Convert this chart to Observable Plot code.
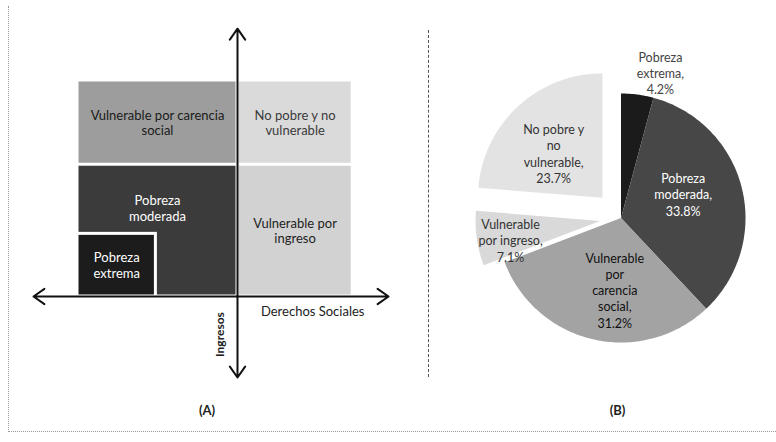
<!DOCTYPE html>
<html><head><meta charset="utf-8">
<script src="https://cdn.jsdelivr.net/npm/d3@7"></script>
<script src="https://cdn.jsdelivr.net/npm/@observablehq/plot@0.6"></script>
<style>
html,body{margin:0;padding:0;background:#fff;}
#wrap{position:relative;width:776px;height:442px;overflow:hidden;font-family:Lato,"Open Sans",sans-serif;}
#a{position:absolute;left:0;top:0;}
#b{position:absolute;left:428px;top:0;}
.frameL{position:absolute;left:8px;top:6px;height:426px;border-left:1px dotted #999;}
.frameB{position:absolute;left:8px;top:431px;width:768px;border-top:1px dotted #999;}
.divider{position:absolute;left:428px;top:30px;height:347px;border-left:1px dashed #555;}
</style></head>
<body>
<div id="wrap">
  <div class="frameL"></div>
  <div class="frameB"></div>
  <div id="a"></div>
  <div id="b"></div>
  <div class="divider"></div>
</div>
<script>
// ---------- Data ----------
// Panel (A): conceptual map of the multidimensional poverty groups
const quadrantNames = ["Vulnerable por carencia social", "No pobre y no vulnerable", "Pobreza moderada", "Vulnerable por ingreso", "Pobreza extrema"];
const quadrantLabels = ["Vulnerable por carencia\nsocial", "No pobre y no\nvulnerable", "Pobreza\nmoderada", "Vulnerable por\ningreso", "Pobreza\nextrema"];
// conceptual extents on the "Derechos Sociales" (x) and "Ingresos" (y) axes
const quadrantX1 = [-1, 0, -1, 0, -1];
const quadrantX2 = [0, 0.72, 0, 0.72, -0.51];
const quadrantY1 = [0.61, 0.61, 0, 0, 0];
const quadrantY2 = [1, 1, 0.61, 0.61, 0.29];
const axisLabels = ["Derechos Sociales", "Ingresos"];
const panelLabels = ["(A)", "(B)"];

// Panel (B): distribution of the population (%)
const pieCategories = ["Pobreza extrema", "Pobreza moderada", "Vulnerable por carencia social", "Vulnerable por ingreso", "No pobre y no vulnerable"];
const pieValues = [4.2, 33.8, 31.2, 7.1, 23.7];
const pieLabelText = ["Pobreza\nextrema,", "Pobreza\nmoderada,", "Vulnerable\npor\ncarencia\nsocial,", "Vulnerable\npor ingreso,", "No pobre y\nno\nvulnerable,"];

// ---------- Styles / layout ----------
const quadrantFill = ["#9d9d9d", "#dadada", "#3b3b3b", "#d2d2d2", "#1c1c1c"];
const quadrantText = ["#1a1a1a", "#3a3a3a", "#ffffff", "#222222", "#ffffff"];
const pieFill = ["#1b1b1b", "#474747", "#a3a3a3", "#d9d9d9", "#e3e3e3"];
const pieText = ["#444444", "#ffffff", "#111111", "#333333", "#333333"];
const pieExplode = [0, 0, 0, 0.17, 0.22];       // in radius units
const pieLabelR = [1.21, 0.535, 0.58, 0.735, 0.53];
const pieLabelShift = [7.6, -7, -8, -4, -5];    // degrees

const font = "Lato, 'Open Sans', sans-serif";

// ---------- Panel A ----------
const cells = quadrantNames.map((name, i) => ({
  name, label: quadrantLabels[i],
  x1: quadrantX1[i], x2: quadrantX2[i], y1: quadrantY1[i], y2: quadrantY2[i],
  fill: quadrantFill[i], text: quadrantText[i],
  lx: (quadrantX1[i] + quadrantX2[i]) / 2,
  ly: name === "Pobreza moderada" ? 0.41 : (quadrantY1[i] + quadrantY2[i]) / 2
}));
const arrows = [
  {x1: 0, y1: 0, x2: -1.275, y2: 0},
  {x1: 0, y1: 0, x2: 0.944, y2: 0},
  {x1: 0, y1: 0, x2: 0, y2: 1.24},
  {x1: 0, y1: 0, x2: 0, y2: -0.375}
];

const plotA = Plot.plot({
  width: 428, height: 442, margin: 0,
  x: {domain: [-237/160, (428-237)/160], axis: null},
  y: {domain: [-146/216, 296/216], axis: null},
  style: {fontFamily: font, background: "transparent"},
  marks: [
    Plot.rect(cells.filter(d => d.name !== "Pobreza extrema"), {x1: "x1", x2: "x2", y1: "y1", y2: "y2", fill: d => d.fill, inset: 1.5}),
    Plot.rect(cells.filter(d => d.name === "Pobreza extrema"), {x1: "x1", x2: "x2", y1: "y1", y2: "y2", fill: d => d.fill, stroke: "#fff", strokeWidth: 3}),
    Plot.text(cells, {x: "lx", y: "ly", text: "label", fill: d => d.text, fontSize: 13, lineHeight: 1.2}),
    Plot.arrow(arrows, {x1: "x1", y1: "y1", x2: "x2", y2: "y2", stroke: "#111", strokeWidth: 2, headLength: 10, headAngle: 70}),
    Plot.text([axisLabels[0]], {x: 0.47, y: -0.07, text: d => d, fontSize: 13, fill: "#222"}),
    Plot.text([axisLabels[1]], {x: -0.11, y: -0.176, text: d => d, fontSize: 12, fontWeight: "bold", fill: "#222", rotate: -90}),
    Plot.text([panelLabels[0]], {x: -0.19, y: -0.53, text: d => d, fontSize: 13, fontWeight: "bold", fill: "#222"})
  ]
});
document.getElementById("a").appendChild(plotA);

// ---------- Panel B ----------
const arcs = d3.pie().sort(null).startAngle(0).endAngle(2 * Math.PI)(pieValues);
const pts = [];
const labels = [];
arcs.forEach((a, i) => {
  const mid = (a.startAngle + a.endAngle) / 2;
  const ox = pieExplode[i] * Math.sin(mid), oy = pieExplode[i] * Math.cos(mid);
  const name = pieCategories[i];
  pts.push({name, u: ox, v: oy});
  const n = Math.max(4, Math.ceil((a.endAngle - a.startAngle) / (Math.PI / 180)));
  for (let k = 0; k <= n; k++) {
    const t = a.startAngle + (a.endAngle - a.startAngle) * k / n;
    pts.push({name, u: ox + Math.sin(t), v: oy + Math.cos(t)});
  }
  const la = mid + pieLabelShift[i] * Math.PI / 180;
  labels.push({
    name,
    text: pieLabelText[i] + "\n" + pieValues[i].toFixed(1) + "%",
    u: ox + pieLabelR[i] * Math.sin(la),
    v: oy + pieLabelR[i] * Math.cos(la),
    color: pieText[i]
  });
});

const R = 124.5, cx = 192.5, cy = 217.5;
const plotB = Plot.plot({
  width: 348, height: 442, margin: 0,
  x: {domain: [-cx / R, (348 - cx) / R], axis: null},
  y: {domain: [(cy - 442) / R, cy / R], axis: null},
  color: {domain: pieCategories, range: pieFill},
  style: {fontFamily: font, background: "transparent"},
  marks: [
    Plot.line(pts, {x: "u", y: "v", z: "name", fill: "name", stroke: null, curve: "linear-closed"}),
    Plot.text(labels, {x: "u", y: "v", text: "text", fill: d => d.color, fontSize: 12.5, lineHeight: 1.3}),
    Plot.text([panelLabels[1]], {x: -0.028, y: -1.546, text: d => d, fontSize: 13, fontWeight: "bold", fill: "#222"})
  ]
});
document.getElementById("b").appendChild(plotB);
</script>
</body></html>
